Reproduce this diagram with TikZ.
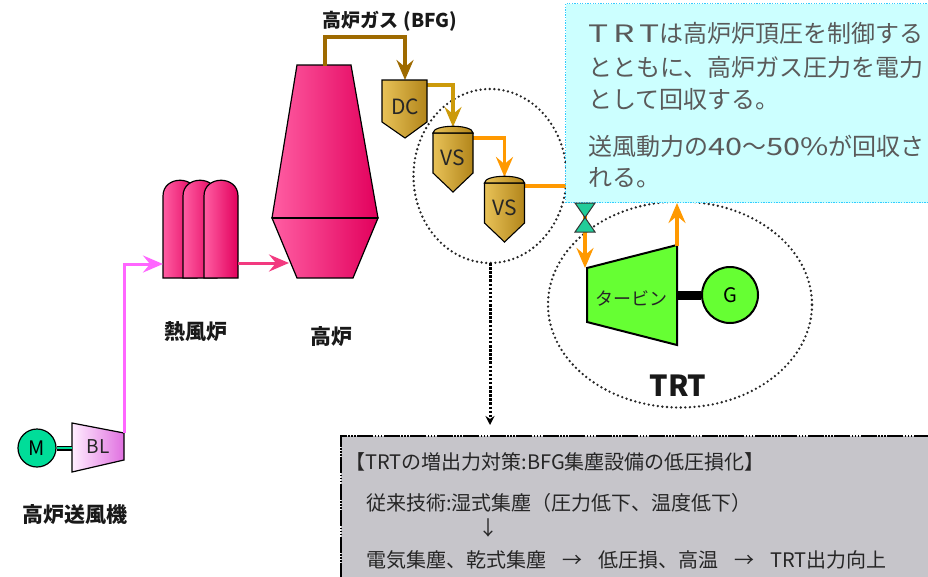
\documentclass[tikz,border=0pt]{standalone}
\usepackage{graphicx}
\usepackage{fontspec}
\setmainfont{Noto Sans CJK JP}
\usetikzlibrary{arrows.meta,shapes.geometric,calc}

\definecolor{furnL}{HTML}{FF5EA3}
\definecolor{furnR}{HTML}{E2005C}
\definecolor{hotair}{HTML}{F23A80}
\definecolor{blastair}{HTML}{FF66FF}
\definecolor{bfgbrown}{HTML}{9E6A00}
\definecolor{gasgold}{HTML}{CC9A0A}
\definecolor{gasorange}{HTML}{FF9900}
\definecolor{goldL}{HTML}{E8C258}
\definecolor{goldR}{HTML}{B2851A}
\definecolor{blL}{HTML}{FFEEFF}
\definecolor{blR}{HTML}{E070E0}
\definecolor{motorteal}{HTML}{00DD99}
\definecolor{valveteal}{HTML}{22CC99}
\definecolor{turbgreen}{HTML}{66FF33}
\definecolor{infofill}{HTML}{CCFFFF}
\definecolor{infoline}{HTML}{33CCFF}
\definecolor{infotext}{HTML}{5A5A5A}
\definecolor{notefill}{HTML}{C6C5CA}

% wide Latin letters and digits in the explanation box
\newcommand{\wideLatin}[1]{\scalebox{1.4}[1]{\addfontfeature{LetterSpace=15}#1}}
\newcommand{\wideDigits}[1]{\scalebox{1.28}[1]{#1}}
\newcommand{\arrowgap}{\hspace{16pt}→\hspace{16pt}}

\tikzset{
  pipetip/.style={-{Stealth[length=20pt,width=17pt,inset=7pt]}},
  furnace/.style={draw=black, line width=1.2pt, left color=furnL, right color=furnR},
  goldvessel/.style={draw=black, line width=1.1pt, left color=goldL, right color=goldR},
  bfgpipe/.style={draw=bfgbrown, line width=4pt, pipetip},
  goldpipe/.style={draw=gasgold, line width=3.5pt, pipetip},
  orangepipe/.style={draw=gasorange, line width=3.5pt, pipetip},
  hotpipe/.style={draw=hotair, line width=3pt, pipetip},
  blastpipe/.style={draw=blastair, line width=3pt, pipetip},
  encl/.style={draw=black!85, line width=2.6pt, dash pattern=on 0pt off 4.6pt, line cap=round, inner sep=0pt, outer sep=0pt},
  lbl/.style={font=\bfseries\fontsize{21}{25}\selectfont, text=black!90, inner sep=0pt},
  eqtext/.style={font=\fontsize{21}{25}\selectfont, text=black!85, inner sep=0pt},
  infoline/.style={font=\fontsize{24}{28}\selectfont, text=infotext, anchor=west, inner sep=0pt},
  noteline/.style={font=\fontsize{20}{24}\selectfont, text=black!85, anchor=west, inner sep=0pt},
}

\begin{document}
\begin{tikzpicture}[x=1pt,y=-1pt]
\useasboundingbox (0,0) rectangle (928,576);
\clip (0,0) rectangle (928,576);

% dotted enclosures around the scrubbers and the TRT set
\node[encl, ellipse, minimum width=153pt, minimum height=174pt] (vsgroup) at (490,176) {};
\node[encl, ellipse, minimum width=264pt, minimum height=206pt] (trtgroup) at (680,304.5) {};

% ---- blower with motor
\node[circle, draw=black, line width=1.2pt, fill=motorteal, minimum size=38pt, inner sep=0pt,
      font=\fontsize{20}{24}\selectfont] (motor) at (37,448) {M};
\path[draw=black, line width=1.2pt, left color=blL, right color=blR]
  (72,423) -- (124,433) -- (124,460) -- (72,472) -- cycle;
\node[eqtext, font=\fontsize{19}{23}\selectfont] (bl) at (98,447) {BL};
\coordinate (bl-shaft) at (72,448);
\draw[line width=5pt] (motor.east) -- (bl-shaft);
\draw[motorteal, line width=1.6pt] (motor.east) -- (bl-shaft);
\node[lbl] (bl-label) at (75,515) {高炉送風機};

% ---- hot stoves
\foreach \sx in {163,183,204} {
  \path[furnace] (\sx,278) -- (\sx,196) .. controls (\sx,175) and (\sx+34,175) .. (\sx+34,196)
        -- (\sx+34,278) -- cycle;
}
\node[lbl] (stove-label) at (196,332) {熱風炉};

% ---- blast furnace
\path[furnace] (297,65) -- (351,65) -- (378,218) -- (272,218) -- cycle;
\path[furnace] (272,218) -- (378,218) -- (353,278) -- (297,278) -- cycle;
\draw[line width=2.2pt] (272,218) -- (378,218);
\node[lbl] (bf-label) at (331,337) {高炉};

% connection points
\coordinate (bl-out) at (124,433);
\coordinate (stove-in) at (163,264);
\coordinate (stove-out) at (238,263);
\coordinate (bf-in) at (289,263);
\coordinate (bf-top) at (325,66);
\coordinate (dc-in) at (405,80);
\coordinate (dc-out) at (427,85);
\coordinate (vs1-in) at (453,127);
\coordinate (vs1-out) at (473,138);
\coordinate (vs2-in) at (504.5,177);
\coordinate (vs2-out) at (525,186);
\coordinate (turb-in) at (585,268);
\coordinate (turb-out) at (677,246);
\coordinate (info-bottom) at (677,203);

% air lines
\draw[blastpipe] (bl-out) |- (stove-in);
\draw[hotpipe] (stove-out) -- (bf-in);

% gas lines
\draw[bfgpipe] (bf-top) |- (405,37) -- (dc-in);
\node[lbl, font=\bfseries\fontsize{19}{23}\selectfont] (bfg-label) at (390,21) {高炉ガス\hspace{5pt}(BFG)\hspace{3pt}};
\draw[goldpipe] (dc-out) -| (vs1-in);
\draw[orangepipe] (vs1-out) -| (vs2-in);
\draw[orangepipe] (vs2-out) -| (turb-in);

% ---- dust catcher
\path[goldvessel] (382,80) -- (427,80) -- (427,122) -- (405,138) -- (382,122) -- cycle;
\node[eqtext] (dc) at (405,107) {DC};

% ---- venturi scrubbers
\foreach \vx/\vy/\nm in {433/133/vs1, 484.5/183/vs2} {
  \path[goldvessel] (\vx,\vy) -- (\vx+40,\vy) -- (\vx+40,\vy+40) -- (\vx+20,\vy+59)
        -- (\vx,\vy+40) -- cycle;
  \path[goldvessel] (\vx,\vy) .. controls (\vx,\vy-9) and (\vx+40,\vy-9) .. (\vx+40,\vy) -- cycle;
  \node[eqtext] (\nm) at (\vx+20,\vy+25) {VS};
}

% ---- explanation box
\node[draw=infoline, line width=1.3pt, dash pattern=on 1.3pt off 1.3pt, fill=infofill,
      anchor=north west, minimum width=380pt, minimum height=199pt, inner sep=0pt] (info) at (565,3) {};
\node[infoline] (info1) at (588,33) {\wideLatin{TRT}は高炉炉頂圧を制御する};
\node[infoline] (info2) at (588,67) {とともに、高炉ガス圧力を電力};
\node[infoline] (info3) at (588,99) {として回収する。};
\node[infoline] (info4) at (588,146) {送風動力の\wideDigits{40}～\wideDigits{50\%}が回収さ};
\node[infoline] (info5) at (588,178) {れる。};

% ---- control valve
\path[draw=black!80, line width=1pt, fill=valveteal]
  (575,203) -- (595,203) -- (575,232) -- (595,232) -- cycle;

% ---- turbine and generator
\path[draw=black, line width=2pt, fill=turbgreen]
  (587,268) -- (677,245) -- (677,345) -- (587,322) -- cycle;
\node[eqtext, font=\fontsize{18}{22}\selectfont] (turbine) at (631,298) {タービン};
\node[circle, draw=black, line width=2pt, fill=turbgreen, minimum size=56pt, inner sep=0pt,
      font=\fontsize{20}{24}\selectfont] (gen) at (730,295) {G};
\coordinate (turb-shaft) at (677,295);
\draw[line width=9pt] (turb-shaft) -- (gen.west);
\draw[orangepipe] (turb-out) -- (info-bottom);
\node[lbl, font=\bfseries\fontsize{29}{33}\selectfont] (trt-label) at (678,386) {TRT};

% ---- countermeasure note
\node[draw=black, line width=2pt, fill=notefill,
      dash pattern=on 16pt off 1.5pt on 1.5pt off 1.5pt on 1.5pt off 1.5pt on 1.5pt off 1.5pt,
      anchor=north west, minimum width=620pt, minimum height=170pt, inner sep=0pt] (note) at (340,435) {};
\draw[draw=black, line width=3pt, dash pattern=on 2.5pt off 1.6pt,
      -{Stealth[length=9pt,width=9pt]}] (vsgroup.south) -- ([yshift=10pt]vsgroup.south |- note.north);
\node[noteline] (note1) at (345,462) {【TRTの増出力対策:BFG集塵設備の低圧損化】};
\node[noteline] (note2) at (366,503) {従来技術:湿式集塵（圧力低下、温度低下）};
\node[noteline, anchor=center] (note3) at (488,528) {↓};
\node[noteline] (note4) at (366,560) {電気集塵、乾式集塵\arrowgap 低圧損、高温\arrowgap TRT出力向上};
\end{tikzpicture}
\end{document}
